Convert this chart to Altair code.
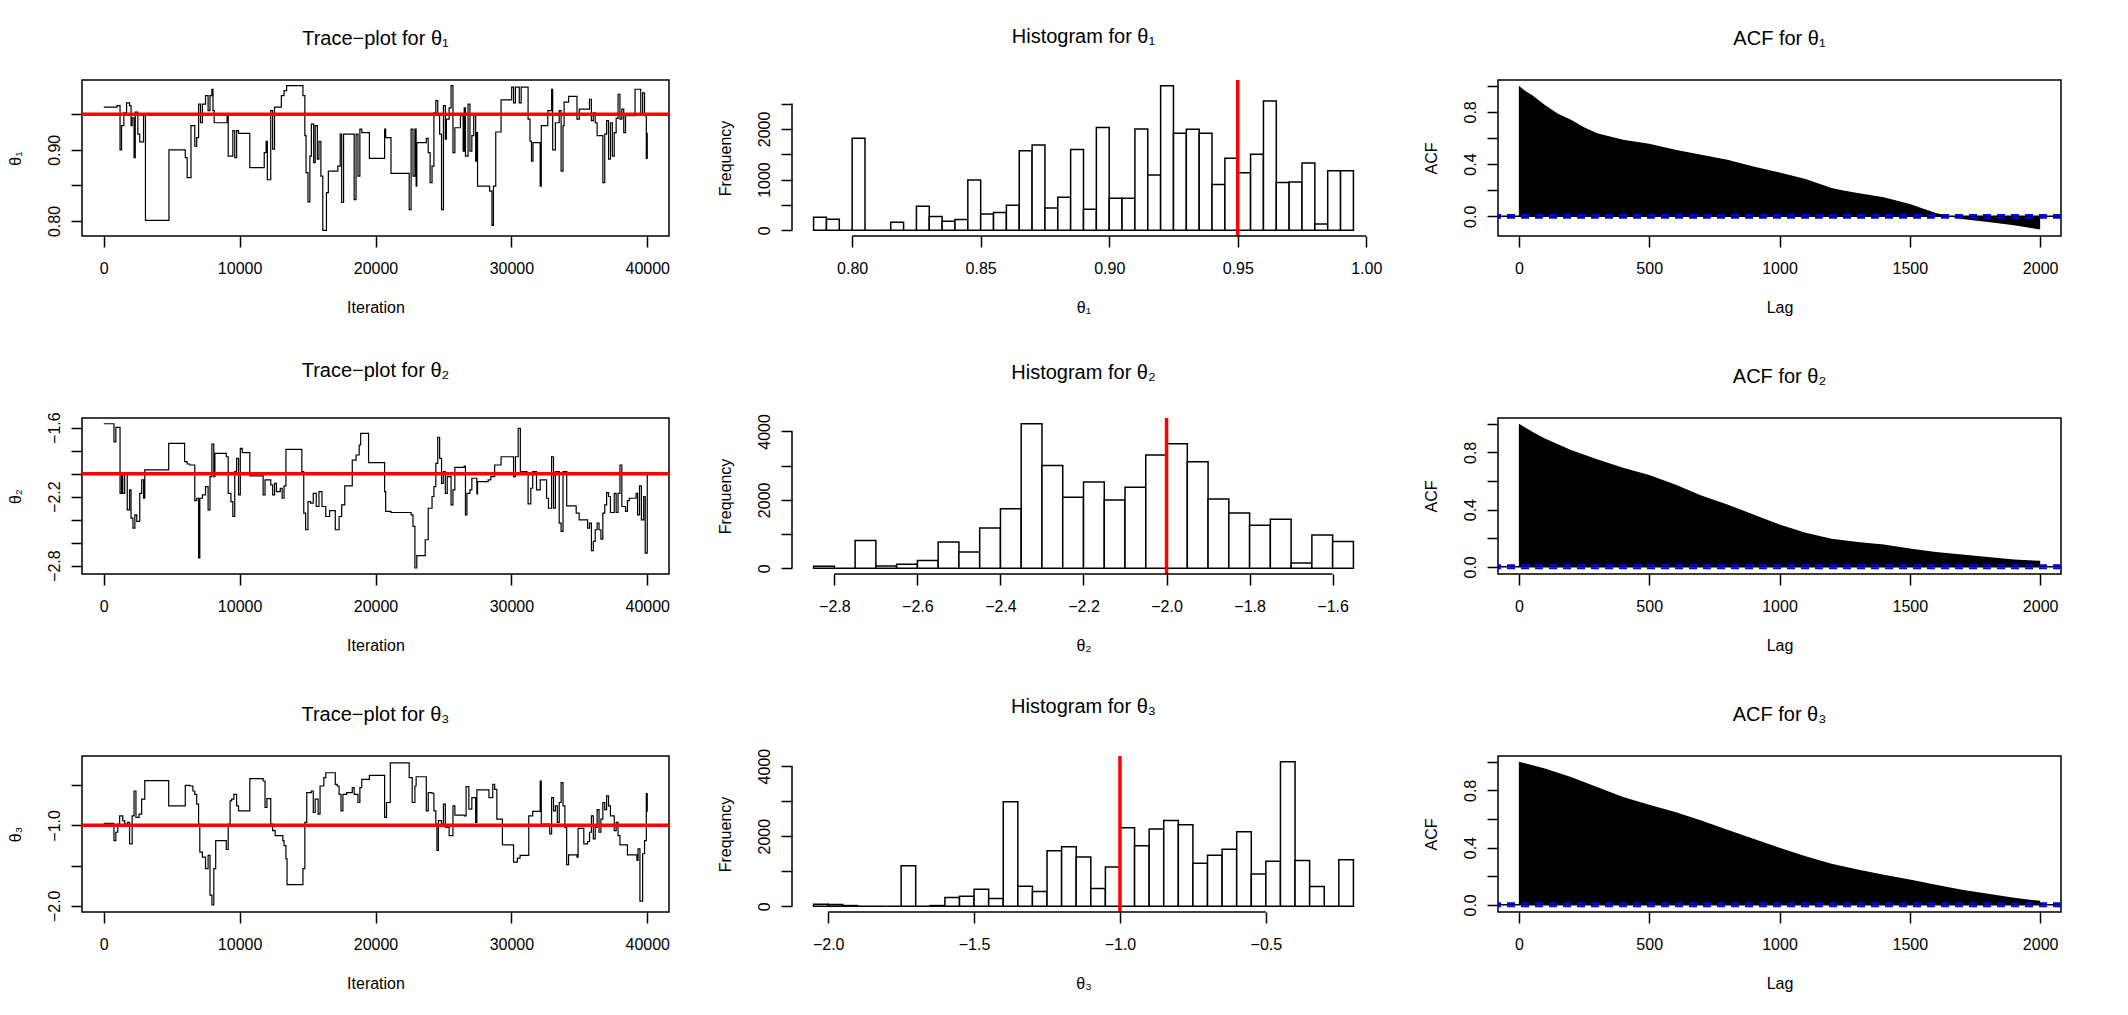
import altair as alt
import pandas as pd

FONT = "Liberation Sans"

# ---------------------------------------------------------------------------
# MCMC output for the three parameters (40000 iterations)
# ---------------------------------------------------------------------------
TRUE_THETA = [0.95, -2.0, -1.0]

# Trace plots: iteration at which the chain moves, and the value it moves to
TRACE1_ITER = [0, 980, 1200, 1310, 1480, 1680, 1900, 2010, 2090, 2230,
               2320, 2510, 2650, 2930, 3070, 4800, 6000, 6140, 6420, 6700,
               6840, 6980, 7120, 7260, 7490, 7680, 7820, 7960, 8040, 8130,
               9080, 9160, 9500, 9640, 9780, 9920, 10750, 11810, 11950, 12040,
               12290, 12430, 12570, 13070, 13270, 13460, 14660, 14800, 14890, 15030,
               15170, 15280, 15450, 15560, 15720, 15840, 15980, 16120, 16390, 16530,
               17230, 17400, 17510, 17650, 18430, 18570, 18710, 18850, 18990, 19550,
               20670, 20750, 21140, 22480, 22620, 22760, 22900, 22990, 23040, 23740,
               23880, 24020, 24160, 24300, 24440, 24580, 24720, 24860, 25000, 25140,
               25220, 25420, 25560, 25700, 25840, 26250, 26450, 26530, 26620, 26810,
               26950, 27090, 27230, 27370, 27460, 27510, 28400, 28570, 28680, 28850,
               29240, 30020, 30160, 30300, 30580, 30720, 31230, 31370, 31480, 31590,
               32120, 32200, 32680, 32960, 33040, 33240, 33520, 33660, 33800, 33880,
               34210, 34830, 35000, 35750, 35890, 36030, 36170, 36310, 36730, 36870,
               37010, 37150, 37290, 37430, 37570, 37710, 37850, 37990, 38130, 38270,
               38400, 39100, 39520, 39660, 39800, 39930, 40000]
TRACE1_VAL = [0.960, 0.962, 0.900, 0.934, 0.952, 0.966, 0.962, 0.934, 0.945, 0.889,
              0.953, 0.922, 0.911, 0.948, 0.801, 0.900, 0.889, 0.861, 0.934, 0.905,
              0.917, 0.964, 0.938, 0.964, 0.976, 0.955, 0.976, 0.985, 0.955, 0.938,
              0.948, 0.891, 0.927, 0.889, 0.927, 0.923, 0.875, 0.896, 0.912, 0.858,
              0.955, 0.901, 0.960, 0.976, 0.983, 0.990, 0.976, 0.920, 0.868, 0.827,
              0.891, 0.936, 0.882, 0.934, 0.887, 0.912, 0.863, 0.787, 0.840, 0.870,
              0.877, 0.922, 0.826, 0.922, 0.830, 0.922, 0.863, 0.929, 0.924, 0.888,
              0.929, 0.917, 0.867, 0.816, 0.929, 0.863, 0.929, 0.849, 0.910, 0.916,
              0.896, 0.854, 0.877, 0.952, 0.969, 0.948, 0.922, 0.816, 0.962, 0.915,
              0.943, 0.959, 0.990, 0.896, 0.931, 0.948, 0.898, 0.959, 0.891, 0.964,
              0.898, 0.920, 0.948, 0.884, 0.924, 0.849, 0.842, 0.794, 0.849, 0.925,
              0.970, 0.988, 0.966, 0.988, 0.966, 0.988, 0.943, 0.912, 0.884, 0.910,
              0.849, 0.934, 0.955, 0.985, 0.900, 0.938, 0.955, 0.870, 0.934, 0.967,
              0.975, 0.943, 0.957, 0.971, 0.941, 0.952, 0.938, 0.920, 0.854, 0.922,
              0.941, 0.887, 0.938, 0.891, 0.924, 0.944, 0.978, 0.943, 0.957, 0.924,
              0.948, 0.985, 0.950, 0.980, 0.948, 0.888, 0.924]

TRACE2_ITER = [0, 750, 890, 1200, 1310, 1400, 1540, 1730, 1900, 2010,
               2150, 2290, 2430, 2650, 2790, 2930, 3020, 4780, 5950, 6140,
               6340, 6700, 6840, 6980, 7070, 7260, 7490, 7680, 7820, 7960,
               8100, 8180, 9020, 9160, 9360, 9500, 9640, 9780, 9920, 10050,
               10190, 10750, 11730, 11870, 12290, 12430, 12570, 12710, 12990, 13130,
               13270, 13410, 14580, 14720, 14860, 15030, 15220, 15420, 15640, 15840,
               16060, 16340, 16620, 17040, 17320, 17510, 17740, 18290, 18570, 18800,
               18910, 19490, 20670, 20750, 21140, 22620, 22760, 22900, 23040, 23660,
               23880, 24160, 24300, 24440, 24580, 24720, 24860, 24990, 25140, 25280,
               25560, 25700, 25840, 26530, 26620, 26730, 26950, 27090, 27460, 27510,
               28290, 28490, 28770, 29240, 30160, 30300, 30500, 30660, 31150, 31230,
               31430, 31570, 31850, 32120, 32590, 32730, 32960, 33100, 33240, 33520,
               33660, 33800, 33940, 34070, 34770, 34990, 35610, 35750, 35890, 36030,
               36170, 36310, 36450, 36590, 36730, 36870, 37010, 37150, 37290, 37570,
               37710, 37850, 37990, 38130, 38400, 38540, 38680, 39180, 39290, 39430,
               39570, 39740, 39850, 40000]
TRACE2_VAL = [-1.566, -1.723, -1.598, -2.171, -1.997, -2.171, -1.997, -2.315, -2.142, -2.387,
              -2.474, -2.358, -2.416, -2.171, -2.055, -2.214, -1.968, -1.737, -1.896, -1.916,
              -1.925, -2.234, -2.214, -2.734, -2.214, -2.185, -2.113, -2.315, -2.026, -1.743,
              -2.026, -1.824, -1.853, -2.171, -2.243, -2.373, -1.983, -1.867, -2.185, -1.780,
              -1.818, -2.020, -2.185, -2.055, -2.098, -2.185, -2.084, -2.156, -2.127, -2.214,
              -2.107, -1.789, -1.983, -2.344, -2.488, -2.243, -2.257, -2.171, -2.286, -2.156,
              -2.286, -2.373, -2.321, -2.488, -2.373, -2.272, -2.107, -1.882, -1.838, -1.751,
              -1.650, -1.905, -2.156, -2.329, -2.338, -2.358, -2.459, -2.821, -2.714, -2.575,
              -2.301, -2.199, -2.113, -1.910, -1.685, -1.867, -2.084, -1.983, -2.171, -2.026,
              -2.272, -2.142, -1.945, -1.934, -2.358, -2.171, -2.142, -2.040, -2.176, -2.069,
              -2.055, -2.026, -1.925, -1.853, -2.026, -1.853, -1.607, -1.983, -1.997, -2.263,
              -2.127, -1.983, -2.142, -2.055, -2.214, -2.301, -1.853, -2.301, -1.983, -2.431,
              -2.503, -1.983, -1.983, -2.280, -2.344, -2.402, -2.474, -2.431, -2.670, -2.590,
              -2.488, -2.431, -2.488, -2.569, -2.344, -2.272, -2.165, -2.199, -2.338, -2.171,
              -2.338, -2.171, -1.925, -2.286, -2.329, -2.234, -2.214, -2.171, -2.358, -2.107,
              -2.402, -2.199, -2.691, -2.012]

TRACE3_ITER = [0, 750, 890, 1030, 1170, 1400, 1540, 1760, 1900, 2090,
               2230, 2370, 2600, 2790, 3020, 4780, 6000, 6340, 6560, 6700,
               6840, 6980, 7070, 7260, 7490, 7680, 7820, 7960, 8100, 8240,
               9020, 9160, 9300, 9410, 9580, 9780, 9920, 10750, 11730, 11870,
               12010, 12290, 12430, 12620, 13180, 13270, 13410, 13490, 14660, 14800,
               14940, 15280, 15420, 15560, 15780, 15920, 16200, 16340, 17040, 17180,
               17320, 17460, 17600, 17880, 18290, 18430, 18710, 18850, 18990, 19550,
               20670, 20810, 21090, 22480, 22700, 22900, 22990, 23740, 23880, 24160,
               24300, 24440, 24520, 24630, 24860, 25000, 25140, 25420, 25700, 25840,
               26530, 26670, 26870, 27090, 27370, 27460, 28350, 28630, 28770, 28930,
               29340, 30160, 30440, 30640, 31280, 31570, 32120, 32200, 32820, 32960,
               33100, 33240, 33380, 33520, 33660, 33800, 33940, 34070, 34210, 34830,
               34910, 35330, 35610, 35750, 35890, 36030, 36170, 36310, 36450, 36590,
               36730, 36870, 37010, 37150, 37290, 37570, 37710, 37850, 37990, 38540,
               39240, 39320, 39460, 39660, 39800, 39930, 40000]
TRACE3_VAL = [-0.975, -1.189, -1.086, -0.984, -0.881, -0.942, -0.984, -0.963, -1.230, -0.881,
              -0.573, -0.901, -0.860, -0.675, -0.445, -0.758, -0.503, -0.511, -0.573, -0.614,
              -0.737, -0.984, -1.333, -1.395, -1.538, -1.374, -1.867, -1.990, -1.538, -1.189,
              -1.300, -0.984, -0.696, -0.675, -0.614, -0.758, -0.819, -0.420, -0.449, -0.778,
              -0.667, -0.984, -1.066, -1.127, -1.189, -1.251, -1.415, -1.736, -1.538, -0.963,
              -0.593, -0.573, -0.840, -0.675, -0.860, -0.511, -0.408, -0.346, -0.490, -0.511,
              -0.614, -0.819, -0.614, -0.593, -0.532, -0.614, -0.716, -0.532, -0.429, -0.379,
              -0.901, -0.716, -0.223, -0.408, -0.716, -0.511, -0.396, -0.819, -0.593, -0.601,
              -0.819, -0.984, -1.312, -0.942, -0.984, -0.737, -1.025, -1.127, -0.758, -0.873,
              -0.881, -0.519, -0.799, -0.655, -0.963, -0.560, -0.655, -0.490, -0.552, -0.922,
              -1.242, -1.456, -1.407, -1.374, -0.881, -0.827, -0.449, -0.984, -1.107, -0.655,
              -0.819, -0.758, -0.963, -0.716, -0.470, -0.758, -1.025, -1.489, -1.366, -1.395,
              -1.037, -1.230, -1.201, -1.086, -0.881, -1.168, -1.025, -0.804, -1.086, -0.922,
              -0.716, -0.804, -0.634, -0.758, -0.881, -1.066, -0.963, -1.127, -1.242, -1.366,
              -1.436, -1.292, -1.941, -1.353, -1.189, -0.605, -0.831]

# Histograms: first break, bin width and counts per bin
HIST1_START, HIST1_WIDTH = 0.785, 0.005
HIST1_COUNTS = [256, 216, 0, 1816, 0, 0, 157, 0, 472, 269,
                177, 210, 990, 321, 348, 492, 1567, 1685, 439, 649,
                1593, 413, 2026, 630, 630, 2000, 1089, 2852, 1915, 1993,
                1915, 905, 1423, 1134, 1502, 2551, 944, 951, 1325, 125,
                1174, 1174]
HIST2_START, HIST2_WIDTH = -2.85, 0.05
HIST2_COUNTS = [58, 0, 808, 68, 117, 224, 769, 477, 1178, 1742,
                4224, 3007, 2073, 2521, 1995, 2365, 3309, 3640, 3114, 2024,
                1616, 1255, 1431, 156, 973, 779]
HIST3_START, HIST3_WIDTH = -2.05, 0.05
HIST3_COUNTS = [57, 48, 19, 0, 0, 0, 1159, 0, 19, 247,
                285, 485, 219, 2983, 570, 418, 1587, 1701, 1406, 504,
                1121, 2242, 1729, 2204, 2451, 2328, 1226, 1454, 1625, 2128,
                922, 1283, 4124, 1302, 561, 0, 1330]

# Autocorrelation functions
ACF1_LAG = [0, 25, 50, 100, 150, 200, 250, 300, 400, 500, 600, 700, 800, 900,
            1000, 1100, 1200, 1250, 1300, 1400, 1500, 1600, 1650, 1700, 1800, 1900, 2000]
ACF1_VAL = [1.0, 0.96, 0.93, 0.853, 0.785, 0.74, 0.683, 0.637, 0.586, 0.555, 0.51, 0.471,
            0.433, 0.382, 0.336, 0.285, 0.217, 0.196, 0.178, 0.145, 0.094, 0.025, 0.0,
            -0.02, -0.043, -0.069, -0.102]
ACF2_LAG = [0, 50, 100, 200, 300, 400, 500, 600, 700, 800, 900, 1000, 1100, 1200,
            1300, 1400, 1500, 1600, 1700, 1800, 1900, 2000]
ACF2_VAL = [1.0, 0.945, 0.896, 0.816, 0.751, 0.693, 0.641, 0.576, 0.499, 0.436, 0.366,
            0.296, 0.238, 0.196, 0.173, 0.156, 0.128, 0.103, 0.086, 0.068, 0.051, 0.042]
ACF3_LAG = [0, 100, 200, 300, 400, 500, 600, 700, 800, 900, 1000, 1100, 1200, 1300,
            1400, 1500, 1600, 1700, 1800, 1900, 2000]
ACF3_VAL = [1.0, 0.952, 0.893, 0.823, 0.753, 0.70, 0.648, 0.59, 0.525, 0.462, 0.399,
            0.34, 0.287, 0.247, 0.21, 0.177, 0.14, 0.105, 0.077, 0.049, 0.028]
ACF_CI = 0.0098  # 1.96 / sqrt(40000)

# ---------------------------------------------------------------------------
# Panel geometry and shared axis styling
# ---------------------------------------------------------------------------
H = 156
W_TRACE, W_HIST, W_ACF = 587, 583, 563
TICK = 11
LW = 1.5


def x_axis(values, fmt, title):
    return alt.Axis(values=values, format=fmt, title=title, domain=False, grid=False,
                    tickSize=TICK, tickWidth=LW, tickColor="black",
                    labelFont=FONT, labelFontSize=16, labelColor="black",
                    labelPadding=13, labelAngle=0, labelAlign="center",
                    labelBaseline="top", labelFlush=False, labelOverlap=False,
                    titleFont=FONT, titleFontSize=16, titleFontWeight="normal",
                    titleColor="black", titleY=76, titleBaseline="alphabetic")


def y_axis(values, fmt, title, keep):
    return alt.Axis(values=values, format=fmt, title=title, domain=False, grid=False,
                    labelExpr=f"({keep}) ? datum.label : ''",
                    tickSize=TICK, tickWidth=LW, tickColor="black",
                    labelFont=FONT, labelFontSize=16, labelColor="black",
                    labelPadding=12, labelAngle=270, labelAlign="center",
                    labelBaseline="alphabetic", labelFlush=False, labelOverlap=False,
                    titleFont=FONT, titleFontSize=16, titleFontWeight="normal",
                    titleColor="black", titleAngle=270, titleX=-62, titleY=H / 2,
                    titleAlign="center", titleBaseline="alphabetic")


def panel_title(text):
    return alt.TitleParams(text=text, font=FONT, fontSize=20, fontWeight="normal",
                           color="black", anchor="middle", frame="group",
                           offset=15, baseline="alphabetic")


BOX = alt.ViewBackground(stroke="black", strokeWidth=LW, fill="white")
NOBOX = alt.ViewBackground(stroke="transparent", fill="white")


def trace_panel(iters, vals, truth, ydomain, yticks, yfmt, keep, sym, title):
    df = pd.DataFrame({"iteration": iters, "theta": vals})
    xs = alt.Scale(domain=[-1600, 41600], nice=False, zero=False)
    ys = alt.Scale(domain=ydomain, nice=False, zero=False)
    xa = x_axis([0, 10000, 20000, 30000, 40000], "d", "Iteration")
    ya = y_axis(yticks, yfmt, sym, keep)
    line = alt.Chart(df).mark_line(color="black", strokeWidth=1.2,
                                   interpolate="step-after").encode(
        x=alt.X("iteration:Q", scale=xs, axis=xa),
        y=alt.Y("theta:Q", scale=ys, axis=ya))
    red = alt.Chart(pd.DataFrame({"truth": [truth]})).mark_rule(
        color="#ff0000", strokeWidth=3.5).encode(
        y=alt.Y("truth:Q", scale=ys, axis=ya))
    return alt.layer(line, red).properties(width=W_TRACE, height=H, view=BOX,
                                           title=panel_title(title))


def hist_panel(start, width, counts, truth, xticks, xfmt, yticks, keep, sym, title):
    left = [round(start + i * width, 4) for i in range(len(counts))]
    right = [round(v + width, 4) for v in left]
    df = pd.DataFrame({"left": left, "right": right, "count": counts})
    span = right[-1] - left[0]
    top = max(counts)
    xs = alt.Scale(domain=[left[0] - 0.04 * span, right[-1] + 0.04 * span],
                   nice=False, zero=False)
    ys = alt.Scale(domain=[-0.04 * top, 1.04 * top], nice=False, zero=False)
    xa = x_axis(xticks, xfmt, sym)
    ya = y_axis(yticks, "d", "Frequency", keep)
    bars = alt.Chart(df).mark_rect(fill="white", stroke="black", strokeWidth=LW).encode(
        x=alt.X("left:Q", scale=xs, axis=xa), x2="right:Q",
        y=alt.Y("count:Q", scale=ys, axis=ya), y2=alt.Y2(datum=0))
    red = alt.Chart(pd.DataFrame({"truth": [truth]})).mark_rule(
        color="#ff0000", strokeWidth=3.5).encode(
        x=alt.X("truth:Q", scale=xs, axis=xa))
    xline = alt.Chart(pd.DataFrame({"a": [xticks[0]], "b": [xticks[-1]]})).mark_rule(
        color="black", strokeWidth=LW).encode(
        x=alt.X("a:Q", scale=xs, axis=xa), x2="b:Q", y=alt.value(H))
    yline = alt.Chart(pd.DataFrame({"a": [yticks[0]], "b": [yticks[-1]]})).mark_rule(
        color="black", strokeWidth=LW).encode(
        y=alt.Y("a:Q", scale=ys, axis=ya), y2="b:Q", x=alt.value(0))
    return alt.layer(bars, red, xline, yline).properties(
        width=W_HIST, height=H, view=NOBOX, title=panel_title(title))


def acf_panel(lags, vals, ydomain, title):
    df = pd.DataFrame({"lag": lags, "acf": vals})
    xs = alt.Scale(domain=[-80, 2080], nice=False, zero=False)
    ys = alt.Scale(domain=ydomain, nice=False, zero=False)
    xa = x_axis([0, 500, 1000, 1500, 2000], "d", "Lag")
    ya = y_axis([0, 0.2, 0.4, 0.6, 0.8, 1.0], ".1f", "ACF",
                "round(datum.value * 10) % 4 == 0")
    area = alt.Chart(df).mark_area(color="black", opacity=1).encode(
        x=alt.X("lag:Q", scale=xs, axis=xa),
        y=alt.Y("acf:Q", scale=ys, axis=ya), y2=alt.Y2(datum=0))
    zero = alt.Chart(pd.DataFrame({"h": [0.0]})).mark_rule(
        color="black", strokeWidth=LW).encode(y=alt.Y("h:Q", scale=ys, axis=ya))
    bands = alt.Chart(pd.DataFrame({"h": [ACF_CI, -ACF_CI]})).mark_rule(
        color="#0000ff", strokeWidth=2.2, strokeDash=[8, 6]).encode(
        y=alt.Y("h:Q", scale=ys, axis=ya))
    return alt.layer(area, zero, bands).properties(width=W_ACF, height=H, view=BOX,
                                                   title=panel_title(title))


panels = [
    trace_panel(TRACE1_ITER, TRACE1_VAL, TRUE_THETA[0], [0.779, 0.998],
                [0.80, 0.85, 0.90, 0.95], ".2f", "round(datum.value * 100) % 10 == 0",
                "θ₁", "Trace−plot for θ₁"),
    hist_panel(HIST1_START, HIST1_WIDTH, HIST1_COUNTS, TRUE_THETA[0],
               [0.80, 0.85, 0.90, 0.95, 1.00], ".2f", [0, 500, 1000, 1500, 2000, 2500],
               "datum.value % 1000 == 0", "θ₁", "Histogram for θ₁"),
    acf_panel(ACF1_LAG, ACF1_VAL, [-0.151, 1.044], "ACF for θ₁"),
    trace_panel(TRACE2_ITER, TRACE2_VAL, TRUE_THETA[1], [-2.873, -1.516],
                [-2.8, -2.6, -2.4, -2.2, -2.0, -1.8, -1.6], ".1f",
                "(round(datum.value * 10) + 28) % 6 == 0", "θ₂", "Trace−plot for θ₂"),
    hist_panel(HIST2_START, HIST2_WIDTH, HIST2_COUNTS, TRUE_THETA[1],
               [-2.8, -2.6, -2.4, -2.2, -2.0, -1.8, -1.6], ".1f",
               [0, 1000, 2000, 3000, 4000], "datum.value % 2000 == 0",
               "θ₂", "Histogram for θ₂"),
    acf_panel(ACF2_LAG, ACF2_VAL, [-0.05, 1.04], "ACF for θ₂"),
    trace_panel(TRACE3_ITER, TRACE3_VAL, TRUE_THETA[2], [-2.077, -0.138],
                [-2.0, -1.5, -1.0, -0.5], ".1f", "round(datum.value * 10) % 10 == 0",
                "θ₃", "Trace−plot for θ₃"),
    hist_panel(HIST3_START, HIST3_WIDTH, HIST3_COUNTS, TRUE_THETA[2],
               [-2.0, -1.5, -1.0, -0.5], ".1f", [0, 1000, 2000, 3000, 4000],
               "datum.value % 2000 == 0", "θ₃", "Histogram for θ₃"),
    acf_panel(ACF3_LAG, ACF3_VAL, [-0.05, 1.04], "ACF for θ₃"),
]

chart = alt.concat(
    *panels, columns=3, spacing=alt.RowColnumber(row=182, column=123), bounds="flush"
).properties(
    padding={"left": 6, "top": 26, "right": 5, "bottom": 5},
    background="white",
).configure(font=FONT).configure_view(stroke="transparent")

chart.save("out.html", embed_options={"renderer": "svg", "actions": False})
